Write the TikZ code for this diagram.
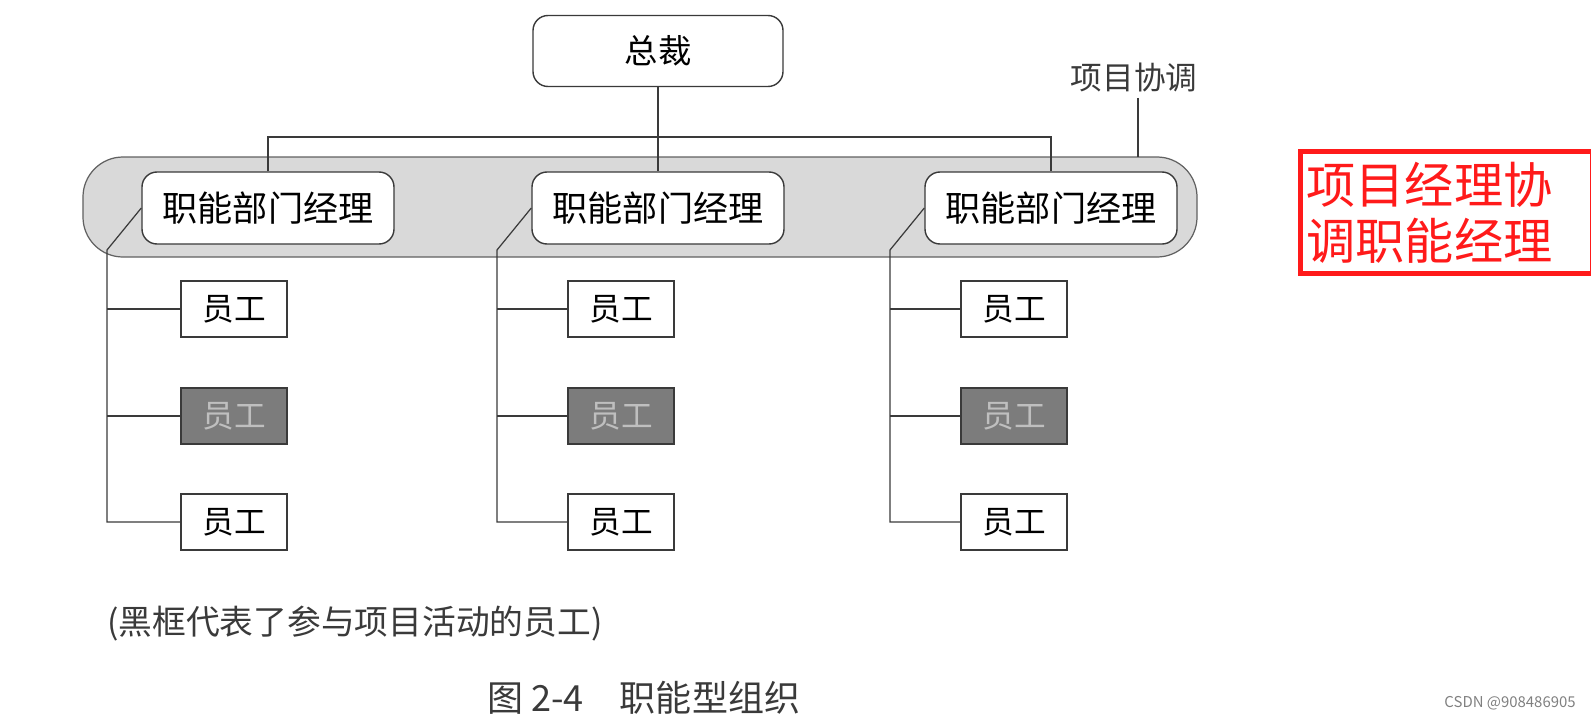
\documentclass[tikz,border=0pt]{standalone}
\usepackage{fontspec}
\setmainfont{Noto Sans CJK SC}
\usepackage{xcolor}
\usepackage{tikz}
\usetikzlibrary{positioning,calc}
\definecolor{OrgInk}{HTML}{3A3A3A}
\definecolor{OrgBand}{HTML}{D9D9D9}
\definecolor{OrgDark}{HTML}{7C7C7C}
\definecolor{OrgRed}{HTML}{FF1A1A}
\tikzset{
  bossbox/.style={draw=OrgInk, line width=0.8pt, rounded corners=3mm, fill=white,
    minimum width=50mm, minimum height=14.2mm, font=\fontsize{19}{22}\selectfont},
  mgrbox/.style={draw=OrgInk, line width=0.8pt, rounded corners=3mm, fill=white,
    minimum width=50.4mm, minimum height=14.4mm, font=\fontsize{20}{24}\selectfont},
  band/.style={draw=OrgInk!80, line width=0.7pt, rounded corners=8mm, fill=OrgBand,
    minimum width=222.8mm, minimum height=20mm},
  staffbox/.style={draw=OrgInk, line width=0.8pt, fill=white,
    minimum width=21.2mm, minimum height=11.2mm, font=\fontsize{18}{22}\selectfont},
  staffdark/.style={staffbox, fill=OrgDark, text=black!25},
  redbox/.style={draw=OrgRed, line width=2.8pt, text=OrgRed, align=left,
    text width=56mm, minimum height=24.4mm, inner sep=1.2mm,
    font=\fontsize{28}{32}\selectfont},
  tie/.style={draw=OrgInk, line width=0.7pt},
  plain/.style={text=OrgInk, inner sep=0pt}
}

\begin{document}
\begin{tikzpicture}[x=0.2mm, y=-0.2mm]
  \useasboundingbox (0,0) rectangle (1591,718);
  % coordination band behind the managers
  \node[band] (band) at (640,207) {};
  \node[bossbox] (boss) at (658,51) {总裁};
  \node[plain, font=\fontsize{18}{22}\selectfont] (coord) at (1134,77) {项目协调};
  \coordinate (bar) at (658,137);
  \draw[tie] (coord.south) ++(4,6) -- (1138,157);
  % managers
  \node[mgrbox] (mgr1) at (268,208) {职能部门经理};
  \node[mgrbox] (mgr2) at (658,208) {职能部门经理};
  \node[mgrbox] (mgr3) at (1051,208) {职能部门经理};
  \draw[tie] (boss.south) -- (mgr2.north);
  \draw[tie] (mgr1.north) |- (bar) -| (mgr3.north);
  % staff in each department
  \foreach \c/\sx/\tx in {1/234/107, 2/621/497, 3/1014/890}{
    \node[staffbox]  (s\c a) at (\sx,309) {员工};
    \node[staffdark] (s\c b) at (\sx,416) {员工};
    \node[staffbox]  (s\c c) at (\sx,522) {员工};
    \coordinate (t\c) at (\tx,250);
    \draw[tie] (mgr\c.west) -- (t\c) |- (s\c c.west);
    \draw[tie] (s\c a.west) -- (s\c a.west -| t\c);
    \draw[tie] (s\c b.west) -- (s\c b.west -| t\c);
  }
  % notes
  \node[redbox, anchor=north west] (note) at (1298,149) {项目经理协\\调职能经理};
  \node[plain, anchor=west, font=\fontsize{19.2}{23}\selectfont] (legend) at (107,624)
    {(黑框代表了参与项目活动的员工)};
  \node[plain, anchor=west, font=\fontsize{20.5}{24}\selectfont] (caption) at (487,698)
    {图 2-4\quad 职能型组织};
  \node[plain, anchor=east, text=black!50, font=\fontsize{8.5}{10}\selectfont] (mark) at (1576,703)
    {CSDN @908486905};
\end{tikzpicture}
\end{document}
